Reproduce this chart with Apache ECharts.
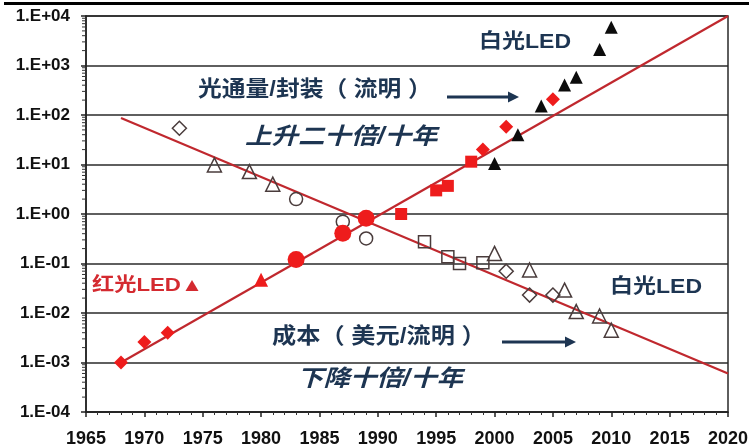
<!DOCTYPE html>
<html><head><meta charset="utf-8">
<script src="https://cdn.jsdelivr.net/npm/echarts@6/dist/echarts.min.js"></script>
<style>html,body{margin:0;padding:0;background:#fff}#c{width:753px;height:448px}</style>
</head><body><div id="c"></div>
<script>
// ---- data ----
const xTickYears = [1965, 1970, 1975, 1980, 1985, 1990, 1995, 2000, 2005, 2010, 2015, 2020];
const yTickExponents = [-4, -3, -2, -1, 0, 1, 2, 3, 4];

// Haitz trend lines
const fluxTrendYears = [1968, 2020];
const fluxTrendValues = [0.001, 10000];
const costTrendYears = [1968, 2020];
const costTrendValues = [87, 0.0006];

// luminous flux per package (filled markers)
const redDiamondYears = [1968, 1970, 1972, 1999, 2001, 2005];
const redDiamondValues = [0.001, 0.0026, 0.004, 20, 58, 208];
const redTriangleYears = [1980];
const redTriangleValues = [0.047];
const redCircleYears = [1983, 1987, 1989];
const redCircleValues = [0.12, 0.41, 0.82];
const redSquareYears = [1992, 1995, 1996, 1998];
const redSquareValues = [1.0, 3.0, 3.7, 11.4];
const whiteFluxYears = [2000, 2002, 2004, 2006, 2007, 2009, 2010];
const whiteFluxValues = [10.5, 40, 152, 405, 580, 2100, 5900];

// cost per lumen (hollow markers)
const hollowDiamondYears = [1973, 2001, 2003, 2005];
const hollowDiamondValues = [54, 0.07, 0.023, 0.023];
const hollowTriangleYears = [1976, 1979, 1981, 2000, 2003, 2006, 2007, 2009, 2010];
const hollowTriangleValues = [9.8, 7.2, 4.0, 0.16, 0.074, 0.029, 0.0107, 0.0087, 0.0045];
const hollowCircleYears = [1983, 1987, 1989];
const hollowCircleValues = [2.0, 0.70, 0.32];
const hollowSquareYears = [1994, 1996, 1997, 1999];
const hollowSquareValues = [0.275, 0.137, 0.10, 0.104];

const minorMultipliers = [2, 3, 4, 5, 6, 7, 8, 9];

// ---- build ----
const pairs = (xs, ys) => xs.map((x, i) => [x, ys[i]]);
const minorTickData = [];
yTickExponents.slice(0, -1).forEach(e => minorMultipliers.forEach(m => minorTickData.push([1965, m * Math.pow(10, e)])));

const NAVY = '#1d3552';
const RED = '#ee1c1c';
const LINE = '#c0282e';
const HOLLOW = '#4a3c3c';
const FONT = '"Liberation Sans", "Noto Sans CJK SC", sans-serif';

function filled(name, data, symbol, size, color) {
  return { name, type: 'scatter', data, symbol, symbolSize: size, z: 5,
    itemStyle: { color, borderColor: color, borderWidth: 0, opacity: 1 } };
}
function hollow(name, data, symbol, size) {
  return { name, type: 'scatter', data, symbol, symbolSize: size, z: 4,
    itemStyle: { color: 'rgba(255,255,255,0)', borderColor: HOLLOW, borderWidth: 1.5, opacity: 1 } };
}
function label(text, x, y, size, color, italic, sx) {
  return { type: 'text', x, y, scaleX: sx || 1.15, z: 20,
    style: { text, fill: color, font: (italic ? 'italic ' : '') + 'bold ' + size + 'px ' + FONT,
      align: 'left', verticalAlign: 'middle', textAlign: 'left', textVerticalAlign: 'middle' } };
}
function arrow(x1, x2, y) {
  return [
    { type: 'line', z: 20, shape: { x1, y1: y, x2: x2 - 8, y2: y }, style: { stroke: NAVY, lineWidth: 3 } },
    { type: 'polygon', z: 20, shape: { points: [[x2 - 11, y - 5.5], [x2, y], [x2 - 11, y + 5.5]] }, style: { fill: NAVY } }
  ];
}

const chart = echarts.init(document.getElementById('c'), null, { renderer: 'canvas' });
chart.setOption({
  animation: false,
  backgroundColor: '#fff',
  grid: { left: 86, right: 25, top: 16, bottom: 36, show: true, borderColor: '#2a2a2a', borderWidth: 1.5,
    containLabel: false, outerBoundsMode: 'none' },
  xAxis: {
    type: 'value', min: 1965, max: 2020, interval: 5,
    axisLine: { show: true, onZero: false, lineStyle: { color: '#222', width: 1.5 } },
    axisTick: { show: true, length: 5, lineStyle: { color: '#222', width: 1.5 } },
    minorTick: { show: true, splitNumber: 5, length: 3, lineStyle: { color: '#333', width: 1 } },
    splitLine: { show: false },
    axisLabel: { margin: 18, color: '#111', fontFamily: FONT, fontWeight: 'bold', fontSize: 18,
      formatter: v => String(v) }
  },
  yAxis: {
    type: 'log', logBase: 10, min: 1e-4, max: 1e4, splitNumber: 8,
    axisLine: { show: true, lineStyle: { color: '#222', width: 1.5 } },
    axisTick: { show: true, length: 5, lineStyle: { color: '#222', width: 1.5 } },
    splitLine: { show: true, lineStyle: { color: '#2a2a2a', width: 1.5 } },
    axisLabel: { margin: 16, color: '#111', fontFamily: FONT, fontWeight: 'bold', fontSize: 17,
      formatter: v => { const e = Math.round(Math.log10(v)); return '1.E' + (e < 0 ? '-' : '+') + String(Math.abs(e)).padStart(2, '0'); } }
  },
  series: [
    { type: 'custom', name: 'minor', data: minorTickData, clip: false, silent: true, z: 3,
      encode: { x: 0, y: 1 },
      renderItem: (params, api) => {
        const p = api.coord([api.value(0), api.value(1)]);
        return { type: 'line', shape: { x1: p[0] - 4, y1: p[1], x2: p[0], y2: p[1] }, style: { stroke: '#333', lineWidth: 1 } };
      } },
    { type: 'line', name: 'fluxTrend', data: pairs(fluxTrendYears, fluxTrendValues), symbol: 'none', z: 3,
      lineStyle: { color: LINE, width: 2.2 } },
    { type: 'line', name: 'costTrend', data: pairs(costTrendYears, costTrendValues), symbol: 'none', z: 3,
      lineStyle: { color: LINE, width: 2.2 } },
    filled('redDiamond', pairs(redDiamondYears, redDiamondValues), 'diamond', 14, RED),
    filled('redTriangle', pairs(redTriangleYears, redTriangleValues), 'triangle', 14, RED),
    filled('redCircle', pairs(redCircleYears, redCircleValues), 'circle', 17, RED),
    filled('redSquare', pairs(redSquareYears, redSquareValues), 'rect', 12, RED),
    filled('whiteFlux', pairs(whiteFluxYears, whiteFluxValues), 'triangle', 13, '#0c0c0c'),
    hollow('hollowDiamond', pairs(hollowDiamondYears, hollowDiamondValues), 'diamond', 14),
    hollow('hollowTriangle', pairs(hollowTriangleYears, hollowTriangleValues), 'triangle', 14),
    hollow('hollowCircle', pairs(hollowCircleYears, hollowCircleValues), 'circle', 13),
    hollow('hollowSquare', pairs(hollowSquareYears, hollowSquareValues), 'rect', 12)
  ],
  graphic: [
    { type: 'rect', z: 30, shape: { x: 4, y: 2, width: 745, height: 3 }, style: { fill: '#000' } },
    label('白光LED', 479, 42, 20, NAVY, false),
    label('光通量/封装（ 流明 ）', 198, 90, 22, NAVY, false, 1.08),
    ...arrow(447, 519, 97),
    label('上升二十倍/十年', 245, 138, 23, NAVY, true),
    label('红光LED▲', 92, 286, 19, '#d42a30', false, 1.17),
    label('白光LED', 610, 287, 20, NAVY, false),
    label('成本（ 美元/流明 ）', 272, 337, 22, NAVY, false, 1.1),
    ...arrow(502, 576, 342),
    label('下降十倍/十年', 297, 380, 23, NAVY, true)
  ]
});
</script></body></html>
